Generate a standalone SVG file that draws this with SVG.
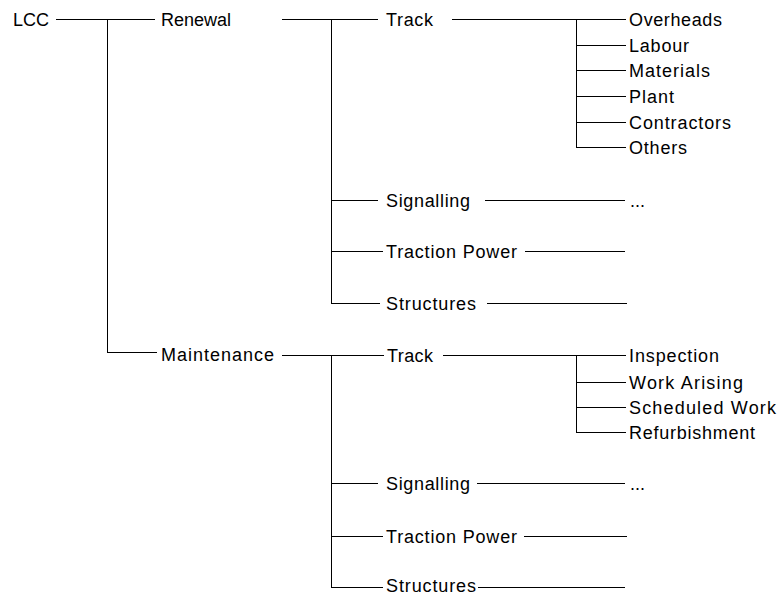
<svg xmlns="http://www.w3.org/2000/svg" width="779" height="596" viewBox="0 0 779 596">
<style>
  text { font-family: "Liberation Sans", Arial, sans-serif; font-size: 18px; fill: #000; }
  .c line { stroke: #000; stroke-width: 1; shape-rendering: crispEdges; }
</style>
<rect width="779" height="596" fill="#fff"/>
<g id="connectors" class="c">
  <line x1="56" y1="19.5" x2="155" y2="19.5"/>
  <line x1="107.5" y1="19" x2="107.5" y2="353"/>
  <line x1="107" y1="352.5" x2="157" y2="352.5"/>
  <line x1="282" y1="19.5" x2="378" y2="19.5"/>
  <line x1="331.5" y1="19" x2="331.5" y2="304"/>
  <line x1="331" y1="200.5" x2="378" y2="200.5"/>
  <line x1="331" y1="251.5" x2="383" y2="251.5"/>
  <line x1="331" y1="303.5" x2="380" y2="303.5"/>
  <line x1="452" y1="19.5" x2="626" y2="19.5"/>
  <line x1="576.5" y1="19" x2="576.5" y2="148"/>
  <line x1="576" y1="45.5" x2="626" y2="45.5"/>
  <line x1="576" y1="70.5" x2="626" y2="70.5"/>
  <line x1="576" y1="96.5" x2="626" y2="96.5"/>
  <line x1="576" y1="122.5" x2="626" y2="122.5"/>
  <line x1="576" y1="147.5" x2="626" y2="147.5"/>
  <line x1="485" y1="200.5" x2="625" y2="200.5"/>
  <line x1="525" y1="251.5" x2="625" y2="251.5"/>
  <line x1="487" y1="303.5" x2="627" y2="303.5"/>
  <line x1="282" y1="355.5" x2="384" y2="355.5"/>
  <line x1="331.5" y1="355" x2="331.5" y2="588"/>
  <line x1="331" y1="483.5" x2="378" y2="483.5"/>
  <line x1="331" y1="536.5" x2="383" y2="536.5"/>
  <line x1="331" y1="587.5" x2="383" y2="587.5"/>
  <line x1="443" y1="355.5" x2="626" y2="355.5"/>
  <line x1="576.5" y1="355" x2="576.5" y2="433"/>
  <line x1="576" y1="382.5" x2="626" y2="382.5"/>
  <line x1="576" y1="407.5" x2="626" y2="407.5"/>
  <line x1="576" y1="432.5" x2="626" y2="432.5"/>
  <line x1="477" y1="483.5" x2="625" y2="483.5"/>
  <line x1="524" y1="536.5" x2="627" y2="536.5"/>
  <line x1="478" y1="587.5" x2="625" y2="587.5"/>
</g>
<g id="lcc"><text x="13" y="26" textLength="36" lengthAdjust="spacing">LCC</text></g>
<g id="renewal"><text x="161" y="26" textLength="70" lengthAdjust="spacing">Renewal</text></g>
<g id="maintenance"><text x="161" y="361" textLength="113" lengthAdjust="spacing">Maintenance</text></g>
<g id="r-track"><text x="386" y="26" textLength="47" lengthAdjust="spacing">Track</text></g>
<g id="r-overheads"><text x="629" y="26" textLength="93" lengthAdjust="spacing">Overheads</text></g>
<g id="r-labour"><text x="629" y="52" textLength="60" lengthAdjust="spacing">Labour</text></g>
<g id="r-materials"><text x="629" y="77" textLength="81" lengthAdjust="spacing">Materials</text></g>
<g id="r-plant"><text x="629" y="103" textLength="45" lengthAdjust="spacing">Plant</text></g>
<g id="r-contractors"><text x="629" y="129" textLength="102" lengthAdjust="spacing">Contractors</text></g>
<g id="r-others"><text x="629" y="154" textLength="58" lengthAdjust="spacing">Others</text></g>
<g id="r-signalling"><text x="386" y="207" textLength="84" lengthAdjust="spacing">Signalling</text></g>
<g id="r-signalling-more"><text x="630" y="207">...</text></g>
<g id="r-traction"><text x="386" y="258" textLength="131" lengthAdjust="spacing">Traction Power</text></g>
<g id="r-structures"><text x="386" y="310" textLength="90" lengthAdjust="spacing">Structures</text></g>
<g id="m-track"><text x="387" y="362" textLength="46" lengthAdjust="spacing">Track</text></g>
<g id="m-inspection"><text x="629" y="362" textLength="90" lengthAdjust="spacing">Inspection</text></g>
<g id="m-workarising"><text x="629" y="389" textLength="114" lengthAdjust="spacing">Work Arising</text></g>
<g id="m-scheduled"><text x="629" y="414" textLength="147" lengthAdjust="spacing">Scheduled Work</text></g>
<g id="m-refurb"><text x="629" y="439" textLength="126" lengthAdjust="spacing">Refurbishment</text></g>
<g id="m-signalling"><text x="386" y="490" textLength="84" lengthAdjust="spacing">Signalling</text></g>
<g id="m-signalling-more"><text x="630" y="490">...</text></g>
<g id="m-traction"><text x="386" y="543" textLength="131" lengthAdjust="spacing">Traction Power</text></g>
<g id="m-structures"><text x="386" y="592" textLength="90" lengthAdjust="spacing">Structures</text></g>
</svg>
